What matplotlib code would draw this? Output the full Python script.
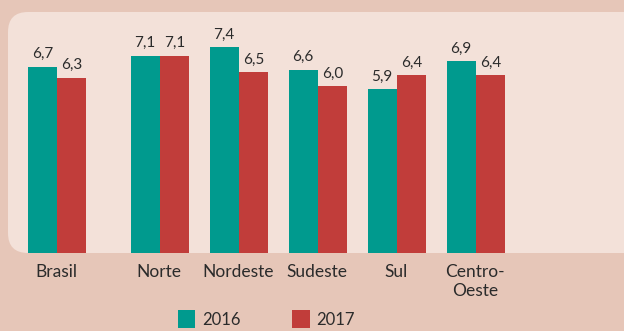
import numpy as np
import matplotlib
matplotlib.use("Agg")
import matplotlib.pyplot as plt
from matplotlib.patches import FancyBboxPatch, Patch

# dados por região
regioes = ["Brasil", "Norte", "Nordeste", "Sudeste", "Sul", "Centro-\nOeste"]
valores_2016 = [6.7, 7.1, 7.4, 6.6, 5.9, 6.9]
valores_2017 = [6.3, 7.1, 6.5, 6.0, 6.4, 6.4]
anos = ["2016", "2017"]

cor_2016 = "#009A8E"
cor_2017 = "#C13D3A"
fundo = "#E6C6B8"
painel = "#F3E1D9"
texto = "#2B2B2B"

plt.rcParams["font.family"] = ["Lato", "DejaVu Sans"]

fig = plt.figure(figsize=(6.24, 3.31), dpi=100, facecolor=fundo)

# painel claro arredondado atrás das barras
fig.add_artist(FancyBboxPatch((0.08, 0.78), 6.5, 2.41,
                              boxstyle="round,pad=0,rounding_size=0.2",
                              transform=fig.dpi_scale_trans,
                              facecolor=painel, edgecolor="none", zorder=0))

ax = fig.add_axes([0, 0.2356, 1, 0.7281])
ax.set_facecolor("none")

# Brasil separado das regiões
x = np.array([0, 1.3, 2.3, 3.3, 4.3, 5.3])
w = 0.37
b1 = ax.bar(x - w / 2 + 0.01, valores_2016, w, color=cor_2016, zorder=2)
b2 = ax.bar(x + w / 2 + 0.01, valores_2017, w, color=cor_2017, zorder=2)

for barras in (b1, b2):
    ax.bar_label(barras, labels=[f"{v:.1f}".replace(".", ",") for v in barras.datavalues],
                 padding=4, fontsize=11, color=texto)

ax.set_xlim(-0.713, 7.186)
ax.set_ylim(0, 8.67)
ax.set_xticks(x)
ax.set_xticklabels(regioes, fontsize=12.5, color=texto, linespacing=1.2)
ax.tick_params(axis="x", length=0, pad=8)
ax.set_yticks([])
for s in ax.spines.values():
    s.set_visible(False)

handles = [Patch(facecolor=cor_2016), Patch(facecolor=cor_2017)]
fig.legend(handles, anos, loc="center", bbox_to_anchor=(0.427, 0.036), ncol=2,
           frameon=False, fontsize=12, handlelength=1.05, handleheight=1.25,
           handletextpad=0.4, columnspacing=3.1, labelcolor=texto,
           borderpad=0.1)

fig.savefig("out.png", dpi=100, facecolor=fundo)
